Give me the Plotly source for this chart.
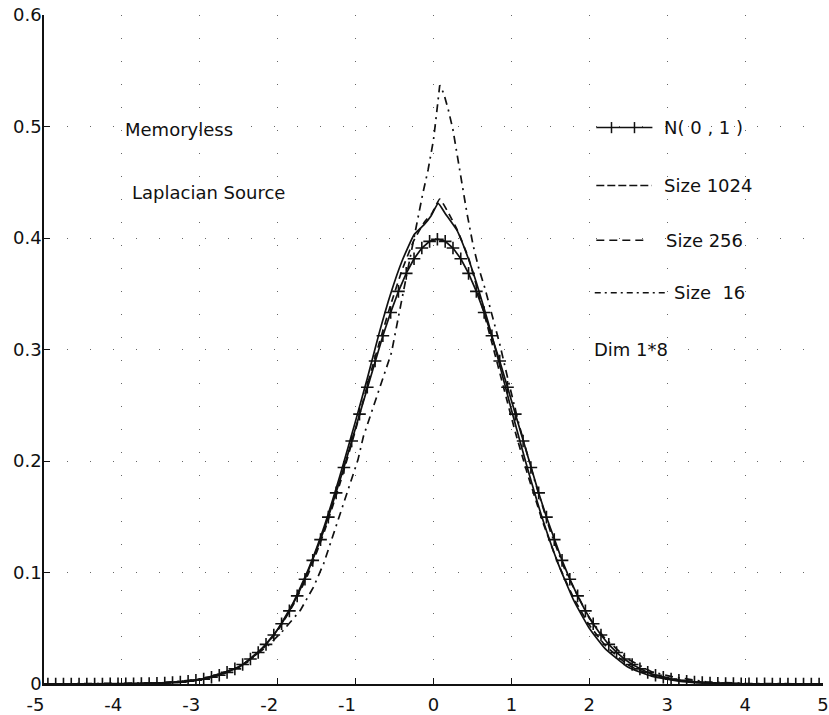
import plotly.graph_objects as go

# ---------------- data ----------------
# N(0,1) reference curve (markers every 0.1)
N_X = [-4.95, -4.85, -4.75, -4.65, -4.55, -4.45, -4.35, -4.25, -4.15, -4.05,
       -3.95, -3.85, -3.75, -3.65, -3.55, -3.45, -3.35, -3.25, -3.15, -3.05,
       -2.95, -2.85, -2.75, -2.65, -2.55, -2.45, -2.35, -2.25, -2.15, -2.05,
       -1.95, -1.85, -1.75, -1.65, -1.55, -1.45, -1.35, -1.25, -1.15, -1.05,
       -0.95, -0.85, -0.75, -0.65, -0.55, -0.45, -0.35, -0.25, -0.15, -0.05,
       0.05, 0.15, 0.25, 0.35, 0.45, 0.55, 0.65, 0.75, 0.85, 0.95,
       1.05, 1.15, 1.25, 1.35, 1.45, 1.55, 1.65, 1.75, 1.85, 1.95,
       2.05, 2.15, 2.25, 2.35, 2.45, 2.55, 2.65, 2.75, 2.85, 2.95,
       3.05, 3.15, 3.25, 3.35, 3.45, 3.55, 3.65, 3.75, 3.85, 3.95,
       4.05, 4.15, 4.25, 4.35, 4.45, 4.55, 4.65, 4.75, 4.85, 4.95, 5.05]
N_Y = [0.0, 0.0, 0.0, 0.0, 0.0, 0.0, 0.0, 0.0, 0.0001, 0.0001,
       0.0001, 0.0002, 0.0003, 0.0004, 0.0006, 0.0009, 0.0012, 0.0017, 0.0024, 0.0033,
       0.0044, 0.0060, 0.0079, 0.0104, 0.0136, 0.0175, 0.0224, 0.0283, 0.0355, 0.0440,
       0.0540, 0.0656, 0.0790, 0.0940, 0.1109, 0.1295, 0.1497, 0.1714, 0.1942, 0.2179,
       0.2420, 0.2661, 0.2897, 0.3123, 0.3332, 0.3521, 0.3683, 0.3814, 0.3910, 0.3970,
       0.3989,
       0.3970, 0.3910, 0.3814, 0.3683, 0.3521, 0.3332, 0.3123, 0.2897, 0.2661, 0.2420,
       0.2179, 0.1942, 0.1714, 0.1497, 0.1295, 0.1109, 0.0940, 0.0790, 0.0656, 0.0540,
       0.0440, 0.0355, 0.0283, 0.0224, 0.0175, 0.0136, 0.0104, 0.0079, 0.0060, 0.0044,
       0.0033, 0.0024, 0.0017, 0.0012, 0.0009, 0.0006, 0.0004, 0.0003, 0.0002, 0.0001,
       0.0001, 0.0001, 0.0, 0.0, 0.0, 0.0, 0.0, 0.0, 0.0, 0.0]

# Size 1024 (solid)
S1024_X = [-5.0, -4.0, -3.5, -3.0, -2.5, -2.2, -2.0, -1.8, -1.6, -1.4, -1.2, -1.0,
           -0.85, -0.7, -0.55, -0.4, -0.25, -0.12, -0.03, 0.06, 0.15, 0.3, 0.45,
           0.55, 0.7, 0.85, 1.0, 1.2, 1.4, 1.6, 1.8, 2.0, 2.2, 2.5, 2.8, 3.2, 3.6,
           4.0, 5.0]
S1024_Y = [0.0, 0.0002, 0.001, 0.004, 0.015, 0.032, 0.049, 0.073, 0.104, 0.142,
           0.187, 0.236, 0.274, 0.314, 0.350, 0.380, 0.403, 0.412, 0.420, 0.431,
           0.422, 0.407, 0.381, 0.360, 0.325, 0.286, 0.246, 0.195, 0.148, 0.108,
           0.075, 0.050, 0.032, 0.015, 0.007, 0.002, 0.0005, 0.0001, 0.0]

# Size 256 (dashed)
S256_X = [-5.0, -4.0, -3.5, -3.0, -2.5, -2.2, -2.0, -1.8, -1.6, -1.4, -1.2, -1.0,
          -0.85, -0.7, -0.55, -0.4, -0.25, -0.12, -0.02, 0.08, 0.18, 0.3, 0.45,
          0.6, 0.75, 0.9, 1.05, 1.2, 1.4, 1.6, 1.8, 2.0, 2.2, 2.5, 2.8, 3.2, 3.6,
          4.0, 5.0]
S256_Y = [0.0, 0.0002, 0.001, 0.004, 0.015, 0.031, 0.048, 0.071, 0.100, 0.137,
          0.180, 0.228, 0.268, 0.305, 0.340, 0.372, 0.398, 0.414, 0.422, 0.435,
          0.424, 0.408, 0.382, 0.345, 0.306, 0.266, 0.226, 0.190, 0.146, 0.108,
          0.077, 0.053, 0.035, 0.017, 0.008, 0.003, 0.001, 0.0002, 0.0]

# Size 16 (dash-dot)
S16_X = [-5.0, -4.0, -3.5, -3.0, -2.7, -2.4, -2.1, -1.93, -1.71, -1.54, -1.41,
         -1.31, -1.2, -1.07, -0.97, -0.9, -0.77, -0.66, -0.54, -0.42, -0.3, -0.2,
         -0.14, -0.07, 0.0, 0.04, 0.08, 0.13, 0.19, 0.25, 0.32, 0.37, 0.43, 0.51,
         0.58, 0.66, 0.73, 0.85, 0.95, 1.1, 1.3, 1.5, 1.7, 2.0, 2.2, 2.5, 2.8,
         3.1, 3.5, 4.0, 5.0]
S16_Y = [0.0, 0.0003, 0.001, 0.004, 0.009, 0.019, 0.036, 0.048, 0.066, 0.087,
         0.108, 0.129, 0.153, 0.180, 0.201, 0.222, 0.249, 0.273, 0.297, 0.340,
         0.383, 0.419, 0.439, 0.461, 0.488, 0.512, 0.537, 0.530, 0.515, 0.497,
         0.468, 0.447, 0.422, 0.393, 0.373, 0.355, 0.336, 0.305, 0.275, 0.232,
         0.182, 0.137, 0.100, 0.059, 0.041, 0.022, 0.011, 0.006, 0.002, 0.0005,
         0.0]

X_TICKS = [-5, -4, -3, -2, -1, 0, 1, 2, 3, 4, 5]
X_TICKTEXT = ["-5", "-4", "-3", "-2", "-1", "0", "1", "2", "3", "4", "5"]
Y_TICKS = [0, 0.1, 0.2, 0.3, 0.4, 0.5, 0.6]
Y_TICKTEXT = ["0", "0.1", "0.2", "0.3", "0.4", "0.5", "0.6"]

LEGEND_LABELS = ["N( 0 , 1 )", "Size 1024", "Size 256", "Size  16"]
NOTE_LEFT = ["Memoryless", "Laplacian Source"]
NOTE_RIGHT = "Dim 1*8"

FONT = "DejaVu Sans, Liberation Sans, Arial, sans-serif"
INK = "#111111"
NBSP = "\u00a0"

fig = go.Figure()

fig.add_trace(go.Scatter(
    x=N_X, y=N_Y, mode="lines+markers", name=LEGEND_LABELS[0],
    line=dict(color=INK, width=1.7),
    marker=dict(symbol="cross-thin", size=9, line=dict(color=INK, width=1.6)),
    showlegend=False))
fig.add_trace(go.Scatter(
    x=S1024_X, y=S1024_Y, mode="lines", name=LEGEND_LABELS[1],
    line=dict(color=INK, width=1.7, shape="spline", smoothing=0.4),
    showlegend=False))
fig.add_trace(go.Scatter(
    x=S256_X, y=S256_Y, mode="lines", name=LEGEND_LABELS[2],
    line=dict(color=INK, width=1.7, dash="7px,5px", shape="spline", smoothing=0.4),
    showlegend=False))
fig.add_trace(go.Scatter(
    x=S16_X, y=S16_Y, mode="lines", name=LEGEND_LABELS[3],
    line=dict(color=INK, width=1.7, dash="8px,5px,2px,5px"),
    showlegend=False))

# ---- hand-made legend (as in the original drawing) ----
shapes = []
ann = []
leg_y = [0.499, 0.447, 0.398, 0.351]
x0, x1 = 2.09, 2.81
shapes.append(dict(type="line", xref="x", yref="y", x0=x0, x1=x1, y0=leg_y[0], y1=leg_y[0],
                   line=dict(color=INK, width=1.5)))
for px in (2.285, 2.58):
    shapes.append(dict(type="line", xref="x", yref="y", x0=px, x1=px,
                       y0=leg_y[0] - 0.005, y1=leg_y[0] + 0.005,
                       line=dict(color=INK, width=1.5)))
shapes.append(dict(type="line", xref="x", yref="y", x0=x0, x1=2.80, y0=leg_y[1], y1=leg_y[1],
                   line=dict(color=INK, width=1.5, dash="8px,3px")))
shapes.append(dict(type="line", xref="x", yref="y", x0=x0, x1=2.70, y0=leg_y[2], y1=leg_y[2],
                   line=dict(color=INK, width=1.5, dash="8px,5px")))
shapes.append(dict(type="line", xref="x", yref="y", x0=2.07, x1=2.99, y0=leg_y[3], y1=leg_y[3],
                   line=dict(color=INK, width=1.5, dash="6px,4px,2px,4px")))

TXT = dict(family=FONT, size=18, color=INK)
text_x = [2.93, 2.93, 2.96, 3.06]
for lab, tx, ty in zip(LEGEND_LABELS, text_x, leg_y):
    ann.append(dict(x=tx, y=ty, xref="x", yref="y", text=lab, showarrow=False,
                    xanchor="left", yanchor="middle", font=TXT))
ann.append(dict(x=2.04, y=0.300, xref="x", yref="y", text=NOTE_RIGHT, showarrow=False,
                xanchor="left", yanchor="middle", font=TXT))
ann.append(dict(x=-3.98, y=0.497, xref="x", yref="y", text=NOTE_LEFT[0], showarrow=False,
                xanchor="left", yanchor="middle", font=TXT))
ann.append(dict(x=-3.90, y=0.441, xref="x", yref="y", text=NOTE_LEFT[1], showarrow=False,
                xanchor="left", yanchor="middle", font=TXT))

fig.update_layout(
    width=829, height=715,
    margin=dict(l=44, r=6, t=15, b=31, pad=0),
    paper_bgcolor="white", plot_bgcolor="white",
    font=dict(family=FONT, color=INK, size=18),
    shapes=shapes, annotations=ann,
    showlegend=False,
)
fig.update_xaxes(
    range=[-5, 5], tickvals=X_TICKS,
    ticktext=[t + NBSP * 3 if t.startswith("-") else t for t in X_TICKTEXT],
    showline=True, linecolor=INK, linewidth=1.6, mirror=False,
    ticks="inside", ticklen=6, tickcolor=INK, tickwidth=1.2,
    showgrid=True, gridcolor="#666666", gridwidth=1, griddash="1px,22px",
    zeroline=False, automargin=False, ticklabelstandoff=4,
    tickfont=dict(family=FONT, size=18, color=INK),
)
fig.update_yaxes(
    range=[0, 0.6], tickvals=Y_TICKS, ticktext=Y_TICKTEXT,
    showline=True, linecolor=INK, linewidth=1.6, mirror=False,
    ticks="inside", ticklen=6, tickcolor=INK, tickwidth=1.2,
    showgrid=True, gridcolor="#666666", gridwidth=1, griddash="1px,22px",
    zeroline=False, automargin=False, ticklabelstandoff=-3,
    tickfont=dict(family=FONT, size=18, color=INK),
)

fig.write_html("out.html")
